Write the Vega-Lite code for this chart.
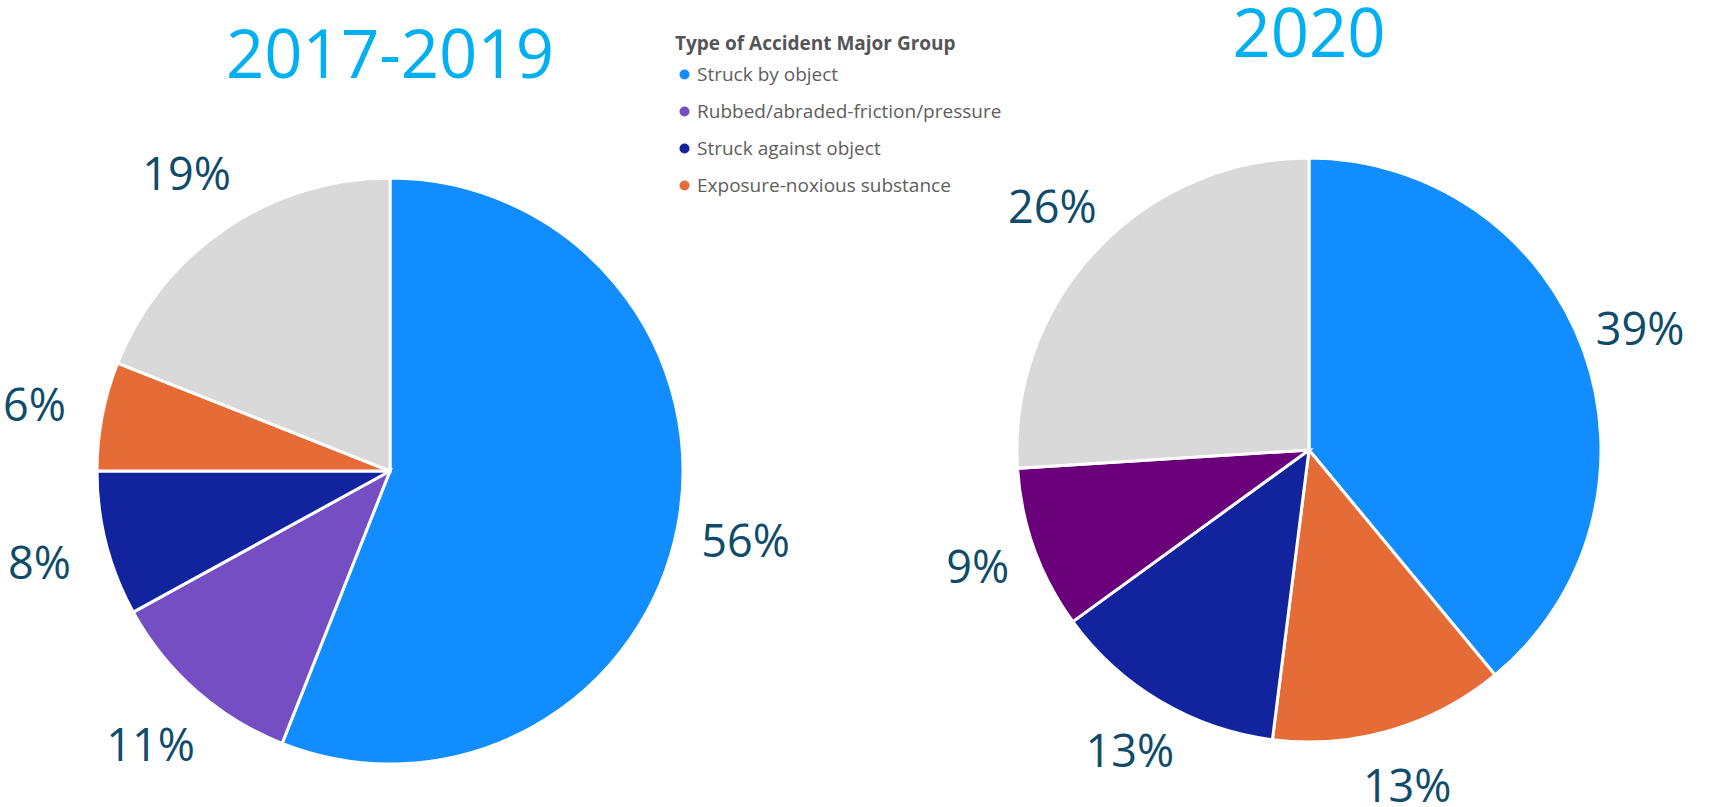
{
  "$schema": "https://vega.github.io/schema/vega-lite/v6.json",
  "width": 1709,
  "height": 807,
  "padding": 0,
  "autosize": {"type": "none"},
  "background": "white",
  "config": {"view": {"stroke": null}, "font": "Open Sans"},
  "data": {
    "values": [
      {"period": "2017-2019", "category": "Struck by object", "value": 0.56, "rank": 1},
      {"period": "2017-2019", "category": "Rubbed/abraded-friction/pressure", "value": 0.11, "rank": 2},
      {"period": "2017-2019", "category": "Struck against object", "value": 0.08, "rank": 3},
      {"period": "2017-2019", "category": "Exposure-noxious substance", "value": 0.06, "rank": 4},
      {"period": "2017-2019", "category": "All other", "value": 0.19, "rank": 5},
      {"period": "2020", "category": "Struck by object", "value": 0.39, "rank": 1},
      {"period": "2020", "category": "Exposure-noxious substance", "value": 0.13, "rank": 2},
      {"period": "2020", "category": "Struck against object", "value": 0.13, "rank": 3},
      {"period": "2020", "category": "Other group", "value": 0.09, "rank": 4},
      {"period": "2020", "category": "All other", "value": 0.26, "rank": 5}
    ]
  },
  "encoding": {
    "x": {"field": "period", "type": "nominal", "scale": {"type": "point", "domain": ["2017-2019", "2020"], "range": [390, 1309], "padding": 0}, "axis": null},
    "y": {"field": "period", "type": "nominal", "scale": {"type": "point", "domain": ["2017-2019", "2020"], "range": [471, 450], "padding": 0}, "axis": null}
  },
  "layer": [
    {
      "transform": [{"filter": "datum.period === '2017-2019'"}],
      "mark": {"type": "arc", "outerRadius": 293, "stroke": "white", "strokeWidth": 3},
      "encoding": {
        "theta": {"field": "value", "type": "quantitative", "stack": true},
        "order": {"field": "rank", "type": "quantitative"},
        "color": {
          "field": "category", "type": "nominal",
          "scale": {
            "domain": ["Struck by object", "Rubbed/abraded-friction/pressure", "Struck against object", "Exposure-noxious substance", "Other group", "All other"],
            "range": ["#118DFF", "#744EC2", "#12239E", "#E66C37", "#6B007B", "#D9D9D9"]
          },
          "legend": {
            "title": "Type of Accident Major Group",
            "values": ["Struck by object", "Rubbed/abraded-friction/pressure", "Struck against object", "Exposure-noxious substance"],
            "orient": "none", "legendX": 675, "legendY": 35, "padding": 0,
            "titleFont": "Open Sans", "titleFontSize": 19, "titleFontWeight": "bold", "titleColor": "#555555",
            "titlePadding": 11, "titleLimit": 0,
            "labelFont": "Open Sans", "labelFontSize": 19, "labelColor": "#605E5C", "labelOffset": 3, "labelLimit": 0,
            "symbolType": "circle", "symbolSize": 100, "symbolStrokeWidth": 0,
            "rowPadding": 17
          }
        }
      }
    },
    {
      "transform": [{"filter": "datum.period === '2017-2019'"}],
      "mark": {"type": "text", "radius": 362, "fontSize": 45, "color": "#0F4C6B", "align": "center", "baseline": "middle", "dy": 4},
      "encoding": {
        "theta": {"field": "value", "type": "quantitative", "stack": true},
        "order": {"field": "rank", "type": "quantitative"},
        "text": {"field": "value", "type": "quantitative", "format": ".0%"}
      }
    },
    {
      "transform": [{"filter": "datum.period === '2020'"}],
      "mark": {"type": "arc", "outerRadius": 292, "stroke": "white", "strokeWidth": 3},
      "encoding": {
        "theta": {"field": "value", "type": "quantitative", "stack": true},
        "order": {"field": "rank", "type": "quantitative"},
        "color": {"field": "category", "type": "nominal"}
      }
    },
    {
      "transform": [{"filter": "datum.period === '2020'"}],
      "mark": {"type": "text", "radius": 352, "fontSize": 45, "color": "#0F4C6B", "align": "center", "baseline": "middle"},
      "encoding": {
        "theta": {"field": "value", "type": "quantitative", "stack": true},
        "order": {"field": "rank", "type": "quantitative"},
        "text": {"field": "value", "type": "quantitative", "format": ".0%"}
      }
    },
    {
      "data": {"values": [{"period": "2017-2019"}, {"period": "2020"}]},
      "mark": {"type": "text", "theta": 0, "radius": 393, "fontSize": 67, "color": "#00B0F0", "align": "center", "baseline": "alphabetic"},
      "encoding": {
        "text": {"field": "period", "type": "nominal"}
      }
    }
  ]
}
